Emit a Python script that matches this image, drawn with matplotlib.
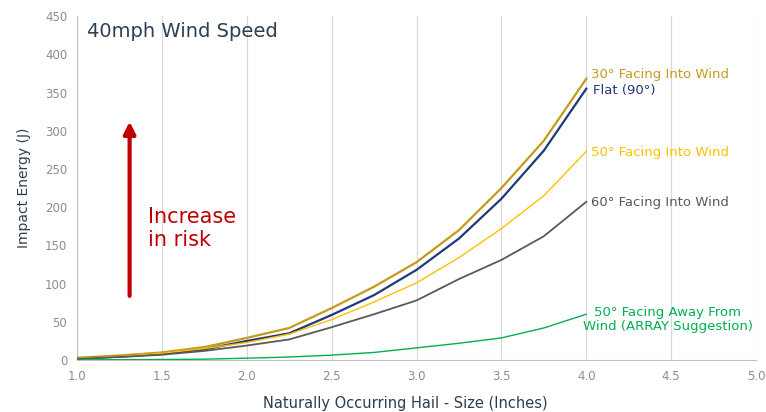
import matplotlib
matplotlib.use("Agg")
import matplotlib.pyplot as plt
from matplotlib import font_manager

# hail size (inches) and impact energy (J) at 40 mph wind
hail_size = [1.0, 1.25, 1.5, 1.75, 2.0, 2.25, 2.5, 2.75, 3.0, 3.25, 3.5, 3.75, 4.0]
into_30 = [3, 6, 10, 17, 29, 42, 68, 96, 128, 170, 225, 287, 368]
flat_90 = [2, 4.5, 8, 14, 25, 35, 59, 85, 118, 159, 211, 274, 355]
into_50 = [2.5, 5, 9, 15, 23, 34, 53, 76, 101, 134, 172, 215, 273]
into_60 = [1.5, 4, 7, 12, 19, 27, 43, 60, 78, 106, 131, 162, 207]
away_50 = [0.3, 0.5, 0.8, 1.2, 2.5, 4, 6.5, 10, 16, 22, 29, 42, 60]

x_ticks = [1.0, 1.5, 2.0, 2.5, 3.0, 3.5, 4.0, 4.5, 5.0]
y_ticks = list(range(0, 451, 50))

names = {f.name for f in font_manager.fontManager.ttflist}
narrow = "Liberation Sans Narrow" if "Liberation Sans Narrow" in names else "DejaVu Sans"
plt.rcParams["font.family"] = [narrow, "DejaVu Sans"]

fig = plt.figure(figsize=(7.66, 4.12), dpi=100)
ax = fig.add_axes([0.1005, 0.126, 0.8865, 0.835])

series = [
    (into_30, "#c59a1c", 1.6),
    (flat_90, "#1f3a78", 1.6),
    (into_50, "#ffc000", 1.0),
    (into_60, "#595959", 1.3),
    (away_50, "#00b050", 1.0),
]
for vals, col, lw in series:
    ax.plot(hail_size, vals, color=col, lw=lw, zorder=3)

ax.set_xlim(1.0, 5.0)
ax.set_ylim(0, 450)
ax.set_xticks(x_ticks)
ax.set_xticklabels([f"{v:.1f}" for v in x_ticks])
ax.set_yticks(y_ticks)
ax.tick_params(length=0, labelsize=8.5, colors="#8c8c8c", pad=7)
ax.tick_params(axis="y", pad=7)
ax.grid(axis="x", color="#d9d9d9", lw=0.9)
for s in ["top", "right"]:
    ax.spines[s].set_visible(False)
for s in ["left", "bottom"]:
    ax.spines[s].set_color("#bfbfbf")

# x label sits low in the reference, close to the bottom edge
fig.text(0.529, 0.021, "Naturally Occurring Hail - Size (Inches)", fontsize=10.5,
         color="#2d3e50", ha="center", va="center")
ax.set_ylabel("Impact Energy (J)", fontsize=10, color="#2d3e50", labelpad=10,
              family="DejaVu Sans")

ax.text(1.06, 430, "40mph Wind Speed", fontsize=14, color="#2d3e50",
        va="center", ha="left", family="DejaVu Sans")

lab = dict(fontsize=9.5, va="center", ha="left")
ax.text(4.03, 374, "30° Facing Into Wind", color="#c59a1c", **lab)
ax.text(4.04, 353, "Flat (90°)", color="#1f3a78", **lab)
ax.text(4.03, 271, "50° Facing Into Wind", color="#ffc000", **lab)
ax.text(4.03, 206, "60° Facing Into Wind", color="#595959", **lab)
ax.text(4.48, 53, "50° Facing Away From\nWind (ARRAY Suggestion)", color="#00b050",
        fontsize=9.5, va="center", ha="center", linespacing=1.15)

ax.annotate("", xy=(1.31, 312), xytext=(1.31, 84),
            arrowprops=dict(arrowstyle="-|>,head_length=0.7,head_width=0.35",
                            color="#c00000", lw=3, shrinkA=0, shrinkB=0), zorder=4)
ax.text(1.42, 172, "Increase\nin risk", fontsize=15, color="#c00000",
        va="center", ha="left", linespacing=1.2, family="DejaVu Sans")

fig.savefig("out.png", dpi=100)
